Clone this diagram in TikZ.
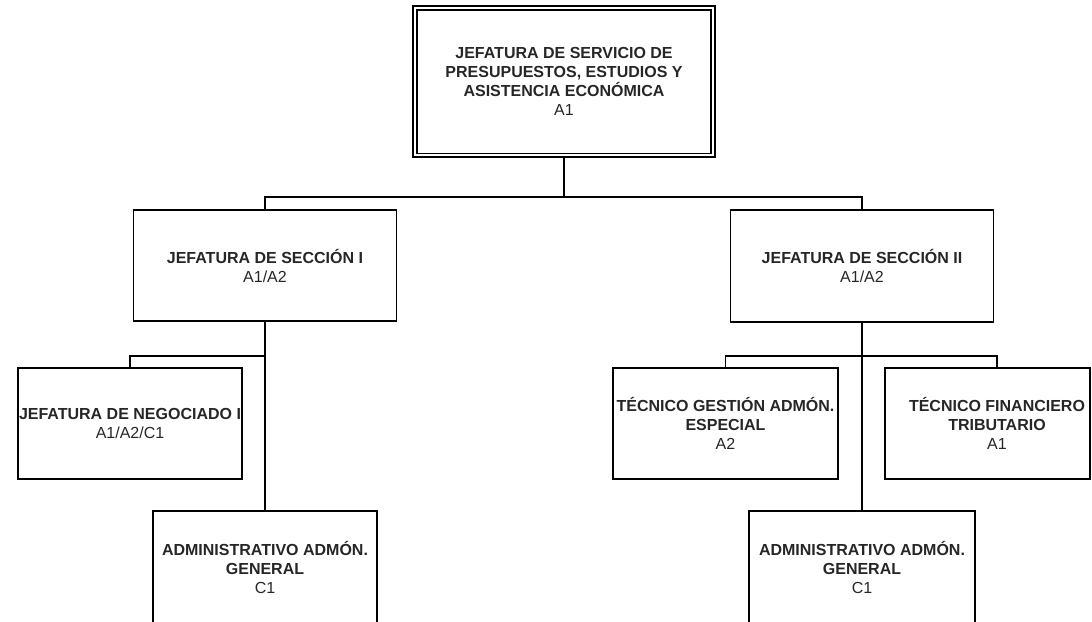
\documentclass[tikz,border=0pt]{standalone}
\usepackage{fontspec}
\setmainfont{Liberation Sans}
\usetikzlibrary{calc}

\tikzset{
	cargo/.style={draw, line width=1.9pt, inner sep=0pt, align=center,
		font=\fontsize{16}{19}\selectfont, text=black!85},
	jefe/.style={cargo, double, double distance=1.8pt, line width=1.9pt},
	rama/.style={line width=1.9pt}
}

\begin{document}
\begin{tikzpicture}[x=1pt,y=-1pt]
	\useasboundingbox (0,0) rectangle (1092,621);
	\clip (0,0) rectangle (1092,621);

	%head box
	\node[jefe, minimum width=297.6pt, minimum height=147.6pt] (serv) at (564,81.5)
		{\textbf{JEFATURA DE SERVICIO DE}\\\textbf{PRESUPUESTOS, ESTUDIOS Y}\\\textbf{ASISTENCIA ECONÓMICA}\\A1};

	%sections
	\node[cargo, minimum width=263pt, minimum height=111pt] (secI) at (265,265.5)
		{\textbf{JEFATURA DE SECCIÓN I}\\A1/A2};
	\node[cargo, minimum width=263pt, minimum height=112pt] (secII) at (862,266)
		{\textbf{JEFATURA DE SECCIÓN II}\\A1/A2};

	%under section I
	\node[cargo, minimum width=224pt, minimum height=111pt] (neg) at (130,423.5)
		{\textbf{JEFATURA DE NEGOCIADO I}\\A1/A2/C1};
	\node[cargo, minimum width=224pt, minimum height=113pt] (admI) at (265,567.5)
		{\textbf{ADMINISTRATIVO ADMÓN.}\\\textbf{GENERAL}\\C1};

	%under section II
	\node[cargo, minimum width=225pt, minimum height=111pt] (tec) at (725.5,423.5)
		{\textbf{TÉCNICO GESTIÓN ADMÓN.}\\\textbf{ESPECIAL}\\A2};
	\node[cargo, minimum width=205pt, minimum height=111pt] (fin) at (987.5,423.5) {};
	\node[align=center, inner sep=0pt, font=\fontsize{16}{19}\selectfont, text=black!85]
		(finlbl) at (997,423.5) {\textbf{TÉCNICO FINANCIERO}\\\textbf{TRIBUTARIO}\\A1};
	\node[cargo, minimum width=226pt, minimum height=113pt] (admII) at (862,567.5)
		{\textbf{ADMINISTRATIVO ADMÓN.}\\\textbf{GENERAL}\\C1};

	%lines
	\coordinate (bus) at (564,197);
	\coordinate (ramI) at (265,356);
	\coordinate (ramII) at (862,356);
	\draw[rama] (serv.south) -- (bus);
	\draw[rama] (secI.north) -- (secI.north |- bus) -- (secII.north |- bus) -- (secII.north);
	\draw[rama] (secI.south) -- (admI.north);
	\draw[rama] (neg.north) |- (ramI);
	\draw[rama] (secII.south) -- (admII.north);
	\draw[rama] (tec.north) -- (tec.north |- ramII) -- (finlbl |- ramII) -- (finlbl |- fin.north);
\end{tikzpicture}
\end{document}
